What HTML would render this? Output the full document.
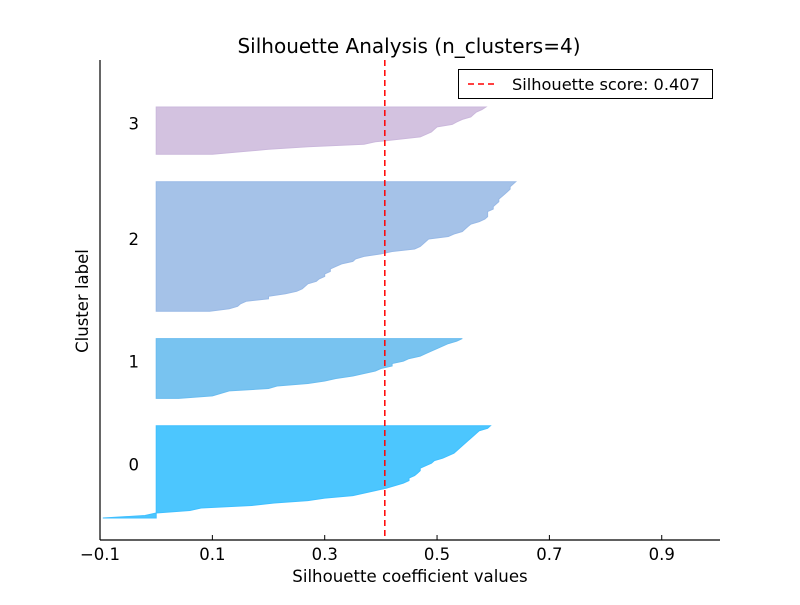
<!DOCTYPE html>
<html><head><meta charset="utf-8"><style>
body{margin:0;background:#fff;}
svg text{font-family:"DejaVu Sans","Liberation Sans",sans-serif;fill:#000;}
</style></head><body>
<svg id="chart" width="800" height="600" viewBox="0 0 800 600" xmlns="http://www.w3.org/2000/svg">
<rect width="800" height="600" fill="#fff"/>
<g id="plot"></g>
<line x1="100" y1="60" x2="100" y2="540" stroke="#000" stroke-width="1.2"/>
<line x1="100" y1="540" x2="720" y2="540" stroke="#000" stroke-width="1.2"/>
<g id="xticks"></g>
<text x="409" y="53" font-size="20" text-anchor="middle">Silhouette Analysis (n_clusters=4)</text>
<text x="410" y="582" font-size="16.6" text-anchor="middle">Silhouette coefficient values</text>
<text x="88" y="301" font-size="16.5" text-anchor="middle" transform="rotate(-90 88 301)">Cluster label</text>
<g>
<rect x="458.5" y="69.5" width="254" height="29" fill="#fff" stroke="#000" stroke-width="1"/>
<line x1="468" y1="84" x2="498" y2="84" stroke="#f00" stroke-width="1.5" stroke-dasharray="6,4"/>
<text x="512" y="90" font-size="16.2">Silhouette score: 0.407</text>
</g>
</svg>
<script>
const clusterLabels = ["0","1","2","3"];
const cluster0 = [-0.095,-0.02,0.0,0.06,0.08,0.17,0.21,0.27,0.30,0.35,0.37,0.39,0.41,0.425,0.44,0.45,0.45,0.46,0.465,0.47,0.47,0.48,0.49,0.495,0.51,0.52,0.53,0.535,0.54,0.545,0.55,0.555,0.56,0.565,0.57,0.575,0.59,0.595];
const cluster1 = [0.04,0.10,0.115,0.13,0.2,0.215,0.27,0.3,0.32,0.35,0.37,0.39,0.40,0.42,0.42,0.44,0.45,0.47,0.48,0.49,0.50,0.51,0.52,0.535,0.545];
const cluster2 = [0.095,0.13,0.145,0.15,0.16,0.20,0.20,0.23,0.25,0.26,0.265,0.27,0.285,0.29,0.30,0.30,0.31,0.31,0.32,0.33,0.35,0.355,0.37,0.40,0.42,0.46,0.47,0.475,0.48,0.485,0.52,0.53,0.545,0.55,0.555,0.56,0.575,0.585,0.59,0.59,0.59,0.60,0.60,0.605,0.61,0.61,0.615,0.62,0.625,0.63,0.63,0.635,0.64];
const cluster3 = [0.10,0.15,0.20,0.27,0.37,0.39,0.43,0.47,0.48,0.49,0.495,0.50,0.527,0.535,0.545,0.56,0.565,0.57,0.58,0.587];
const silhouetteScore = 0.407;
const xTickValues = [-0.1,0.1,0.3,0.5,0.7,0.9];
const xTickLabels = ["\u22120.1","0.1","0.3","0.5","0.7","0.9"];

const clusters = [cluster0, cluster1, cluster2, cluster3];
const colors = ["#4cc6fe","#78c3f0","#a5c2e8","#d3c2e0"];
const edges = ["#3fbfff","#6abcef","#98b9e6","#cbb8dc"];
const NS = "http://www.w3.org/2000/svg";
const xS = v => 156.2 + v * 561.7;
const yS = u => 542.9 - u * 2.491;
const plot = document.getElementById('plot');

let yl = 10;
clusters.forEach((vals, k) => {
  const pts = [[xS(0), yS(yl)]];
  vals.forEach((v, i) => pts.push([xS(v), yS(yl + i)]));
  pts.push([xS(0), yS(yl + vals.length - 1)]);
  const p = document.createElementNS(NS, 'polygon');
  p.setAttribute('points', pts.map(q => q[0].toFixed(1) + ',' + q[1].toFixed(1)).join(' '));
  p.setAttribute('fill', colors[k]);
  p.setAttribute('stroke', edges[k]);
  p.setAttribute('stroke-width', '1');
  
  
  plot.appendChild(p);
  const t = document.createElementNS(NS, 'text');
  t.setAttribute('x', xS(-0.04));
  t.setAttribute('y', yS(yl + vals.length / 2));
  t.setAttribute('font-size', '16.5');
  t.setAttribute('text-anchor', 'middle');
  t.textContent = clusterLabels[k];
  
  
  plot.appendChild(t);
  yl += vals.length + 10;
});

const sl = document.createElementNS(NS, 'line');
sl.setAttribute('x1', xS(silhouetteScore)); sl.setAttribute('x2', xS(silhouetteScore));
sl.setAttribute('y1', 60); sl.setAttribute('y2', 540);
sl.setAttribute('stroke', '#f00'); sl.setAttribute('stroke-width', '1.5');
sl.setAttribute('stroke-dasharray', '6,4');


plot.appendChild(sl);

const xt = document.getElementById('xticks');
xTickValues.forEach((v, i) => {
  const l = document.createElementNS(NS, 'line');
  l.setAttribute('x1', xS(v)); l.setAttribute('x2', xS(v));
  l.setAttribute('y1', 540); l.setAttribute('y2', 535);
  l.setAttribute('stroke', '#000');
  
  
  xt.appendChild(l);
  const t = document.createElementNS(NS, 'text');
  t.setAttribute('x', xS(v)); t.setAttribute('y', 560);
  t.setAttribute('font-size', '16.5'); t.setAttribute('text-anchor', 'middle');
  t.textContent = xTickLabels[i];
  
  
  xt.appendChild(t);
});
</script>
</body></html>
